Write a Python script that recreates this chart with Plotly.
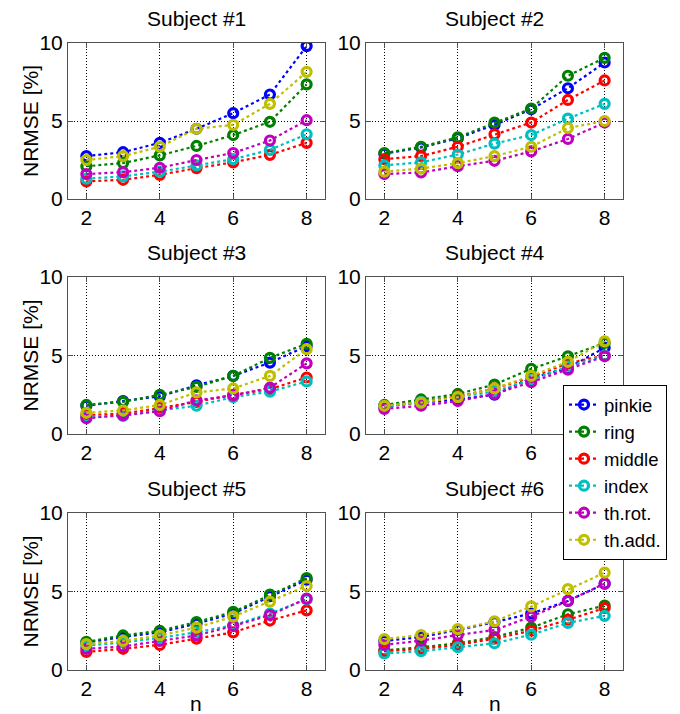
import plotly.graph_objects as go

n_values = [2, 3, 4, 5, 6, 7, 8]
finger_names = ["pinkie", "ring", "middle", "index", "th.rot.", "th.add."]
subject_titles = ["Subject #1", "Subject #2", "Subject #3", "Subject #4", "Subject #5", "Subject #6"]

# NRMSE [%] per subject, per finger (pinkie, ring, middle, index, th.rot., th.add.)
s1_pinkie = [2.75, 3.0, 3.6, 4.5, 5.5, 6.7, 9.8]
s1_ring = [2.1, 2.3, 2.8, 3.4, 4.1, 4.95, 7.35]
s1_middle = [1.13, 1.23, 1.55, 1.98, 2.35, 2.83, 3.6]
s1_index = [1.3, 1.45, 1.75, 2.15, 2.55, 3.15, 4.15]
s1_throt = [1.6, 1.72, 2.0, 2.5, 2.95, 3.75, 5.05]
s1_thadd = [2.5, 2.75, 3.35, 4.5, 4.75, 6.1, 8.15]

s2_pinkie = [2.9, 3.3, 3.9, 4.75, 5.75, 7.1, 8.75]
s2_ring = [2.95, 3.35, 3.95, 4.9, 5.8, 7.9, 9.05]
s2_middle = [2.55, 2.75, 3.35, 4.15, 4.9, 6.35, 7.6]
s2_index = [2.15, 2.35, 2.85, 3.55, 4.1, 5.15, 6.1]
s2_throt = [1.6, 1.7, 2.1, 2.45, 3.05, 3.85, 4.9]
s2_thadd = [1.75, 1.95, 2.3, 2.75, 3.35, 4.55, 5.0]

s3_pinkie = [1.8, 2.1, 2.4, 3.1, 3.7, 4.55, 5.6]
s3_ring = [1.85, 2.05, 2.5, 3.0, 3.7, 4.85, 5.75]
s3_middle = [1.2, 1.3, 1.65, 2.05, 2.5, 2.85, 3.6]
s3_index = [1.1, 1.15, 1.5, 1.8, 2.35, 2.7, 3.35]
s3_throt = [1.0, 1.2, 1.45, 2.15, 2.45, 2.95, 4.5]
s3_thadd = [1.35, 1.5, 1.85, 2.65, 2.9, 3.7, 5.4]

s4_pinkie = [1.75, 2.0, 2.2, 2.5, 3.55, 4.2, 5.5]
s4_ring = [1.85, 2.2, 2.55, 3.15, 4.15, 4.95, 5.8]
s4_middle = [1.8, 2.05, 2.4, 2.9, 3.6, 4.5, 5.0]
s4_index = [1.75, 2.05, 2.35, 2.7, 3.45, 4.3, 5.0]
s4_throt = [1.6, 1.8, 2.1, 2.55, 3.3, 4.1, 4.95]
s4_thadd = [1.8, 2.0, 2.35, 2.9, 3.7, 4.6, 5.9]

s5_pinkie = [1.75, 2.1, 2.4, 2.95, 3.6, 4.7, 5.75]
s5_ring = [1.8, 2.2, 2.5, 3.05, 3.7, 4.8, 5.85]
s5_middle = [1.15, 1.35, 1.6, 2.0, 2.4, 3.15, 3.8]
s5_index = [1.55, 1.75, 2.05, 2.4, 2.85, 3.6, 4.5]
s5_throt = [1.35, 1.5, 1.85, 2.2, 2.8, 3.5, 4.55]
s5_thadd = [1.65, 1.85, 2.2, 2.7, 3.4, 4.35, 5.35]

s6_pinkie = [1.85, 2.1, 2.55, 3.05, 3.6, 4.4, 5.5]
s6_ring = [1.25, 1.45, 1.7, 2.1, 2.7, 3.55, 4.1]
s6_middle = [1.2, 1.35, 1.6, 2.0, 2.5, 3.2, 3.95]
s6_index = [1.05, 1.2, 1.45, 1.7, 2.25, 3.0, 3.45]
s6_throt = [1.6, 1.87, 2.23, 2.55, 3.4, 4.4, 5.5]
s6_thadd = [1.97, 2.23, 2.6, 3.1, 4.05, 5.15, 6.2]

subjects = [
    [s1_pinkie, s1_ring, s1_middle, s1_index, s1_throt, s1_thadd],
    [s2_pinkie, s2_ring, s2_middle, s2_index, s2_throt, s2_thadd],
    [s3_pinkie, s3_ring, s3_middle, s3_index, s3_throt, s3_thadd],
    [s4_pinkie, s4_ring, s4_middle, s4_index, s4_throt, s4_thadd],
    [s5_pinkie, s5_ring, s5_middle, s5_index, s5_throt, s5_thadd],
    [s6_pinkie, s6_ring, s6_middle, s6_index, s6_throt, s6_thadd],
]

x_ticks = [2, 4, 6, 8]
x_tick_labels = ["2", "4", "6", "8"]
x_tick_labels_under_legend = ["2", "4", "6", ""]  # Subject #4: the "8" is covered by the legend
y_ticks = [0, 5, 10]

colors = ["#0000ff", "#008000", "#ff0000", "#00bfbf", "#bf00bf", "#bfbf00"]

W, H = 680, 714
FONT = "Liberation Sans, Arial, sans-serif"
FS = 21

# pixel layout of plot areas (left, right, top, bottom)
col_px = [(68, 325), (366, 623)]
row_px = [(43, 199), (277, 434), (513, 670)]

fig = go.Figure()
layout_axes = {}
annotations = []

for k in range(6):
    r, c = divmod(k, 2)
    idx = k + 1
    xa = "x" if idx == 1 else f"x{idx}"
    ya = "y" if idx == 1 else f"y{idx}"
    for j, name in enumerate(finger_names):
        fig.add_trace(go.Scatter(
            x=n_values, y=subjects[k][j], mode="lines+markers", name=name,
            legendgroup=name, showlegend=(k == 0),
            line=dict(color=colors[j], width=2.2, dash="dot"),
            marker=dict(symbol="circle-open", size=9, line=dict(color=colors[j], width=3.2)),
            xaxis=xa, yaxis=ya,
        ))
    l, rr = col_px[c]
    t, b = row_px[r]
    xkey = "xaxis" if idx == 1 else f"xaxis{idx}"
    ykey = "yaxis" if idx == 1 else f"yaxis{idx}"
    common = dict(showline=True, mirror="ticks", linecolor="#505050", linewidth=1,
                  ticks="inside", ticklen=5, tickcolor="#505050", automargin=False,
                  showgrid=True, gridcolor="#000000", griddash="1px,2px", gridwidth=1,
                  zeroline=False, tickfont=dict(family=FONT, size=FS, color="#000"))
    xt = x_tick_labels_under_legend if idx == 4 else x_tick_labels
    layout_axes[xkey] = dict(domain=[l / W, rr / W], range=[1.5, 8.5], tickvals=x_ticks,
                             ticktext=xt, anchor=ya, **common)
    layout_axes[ykey] = dict(domain=[1 - b / H, 1 - t / H], range=[0, 10], tickvals=y_ticks,
                             anchor=xa, **common)
    annotations.append(dict(text=subject_titles[k], x=(l + rr) / 2 / W, y=1 - (t - 25) / H,
                            xref="paper", yref="paper", showarrow=False,
                            xanchor="center", yanchor="middle",
                            font=dict(family=FONT, size=FS, color="#000")))
    if c == 0:
        annotations.append(dict(text="NRMSE [%]", x=30 / W, y=1 - (t + b) / 2 / H,
                                xref="paper", yref="paper", showarrow=False, textangle=-90,
                                xanchor="center", yanchor="middle",
                                font=dict(family=FONT, size=FS, color="#000")))
    if r == 2:
        annotations.append(dict(text="n", x=(l + rr) / 2 / W, y=1 - 703 / H,
                                xref="paper", yref="paper", showarrow=False,
                                xanchor="center", yanchor="middle",
                                font=dict(family=FONT, size=FS, color="#000")))

fig.update_layout(
    width=W, height=H, margin=dict(l=0, r=0, t=0, b=0, autoexpand=False),
    paper_bgcolor="white", plot_bgcolor="white",
    annotations=annotations,
    legend=dict(x=563 / W, y=1 - 385 / H, xanchor="left", yanchor="top",
                bgcolor="white", bordercolor="#000", borderwidth=1,
                itemwidth=30, tracegroupgap=0,
                font=dict(family=FONT, size=18.5, color="#000")),
    **layout_axes,
)

fig.write_html("out.html", config={"displayModeBar": False},
               post_script="document.body.style.margin='0';document.body.style.padding='0';")
